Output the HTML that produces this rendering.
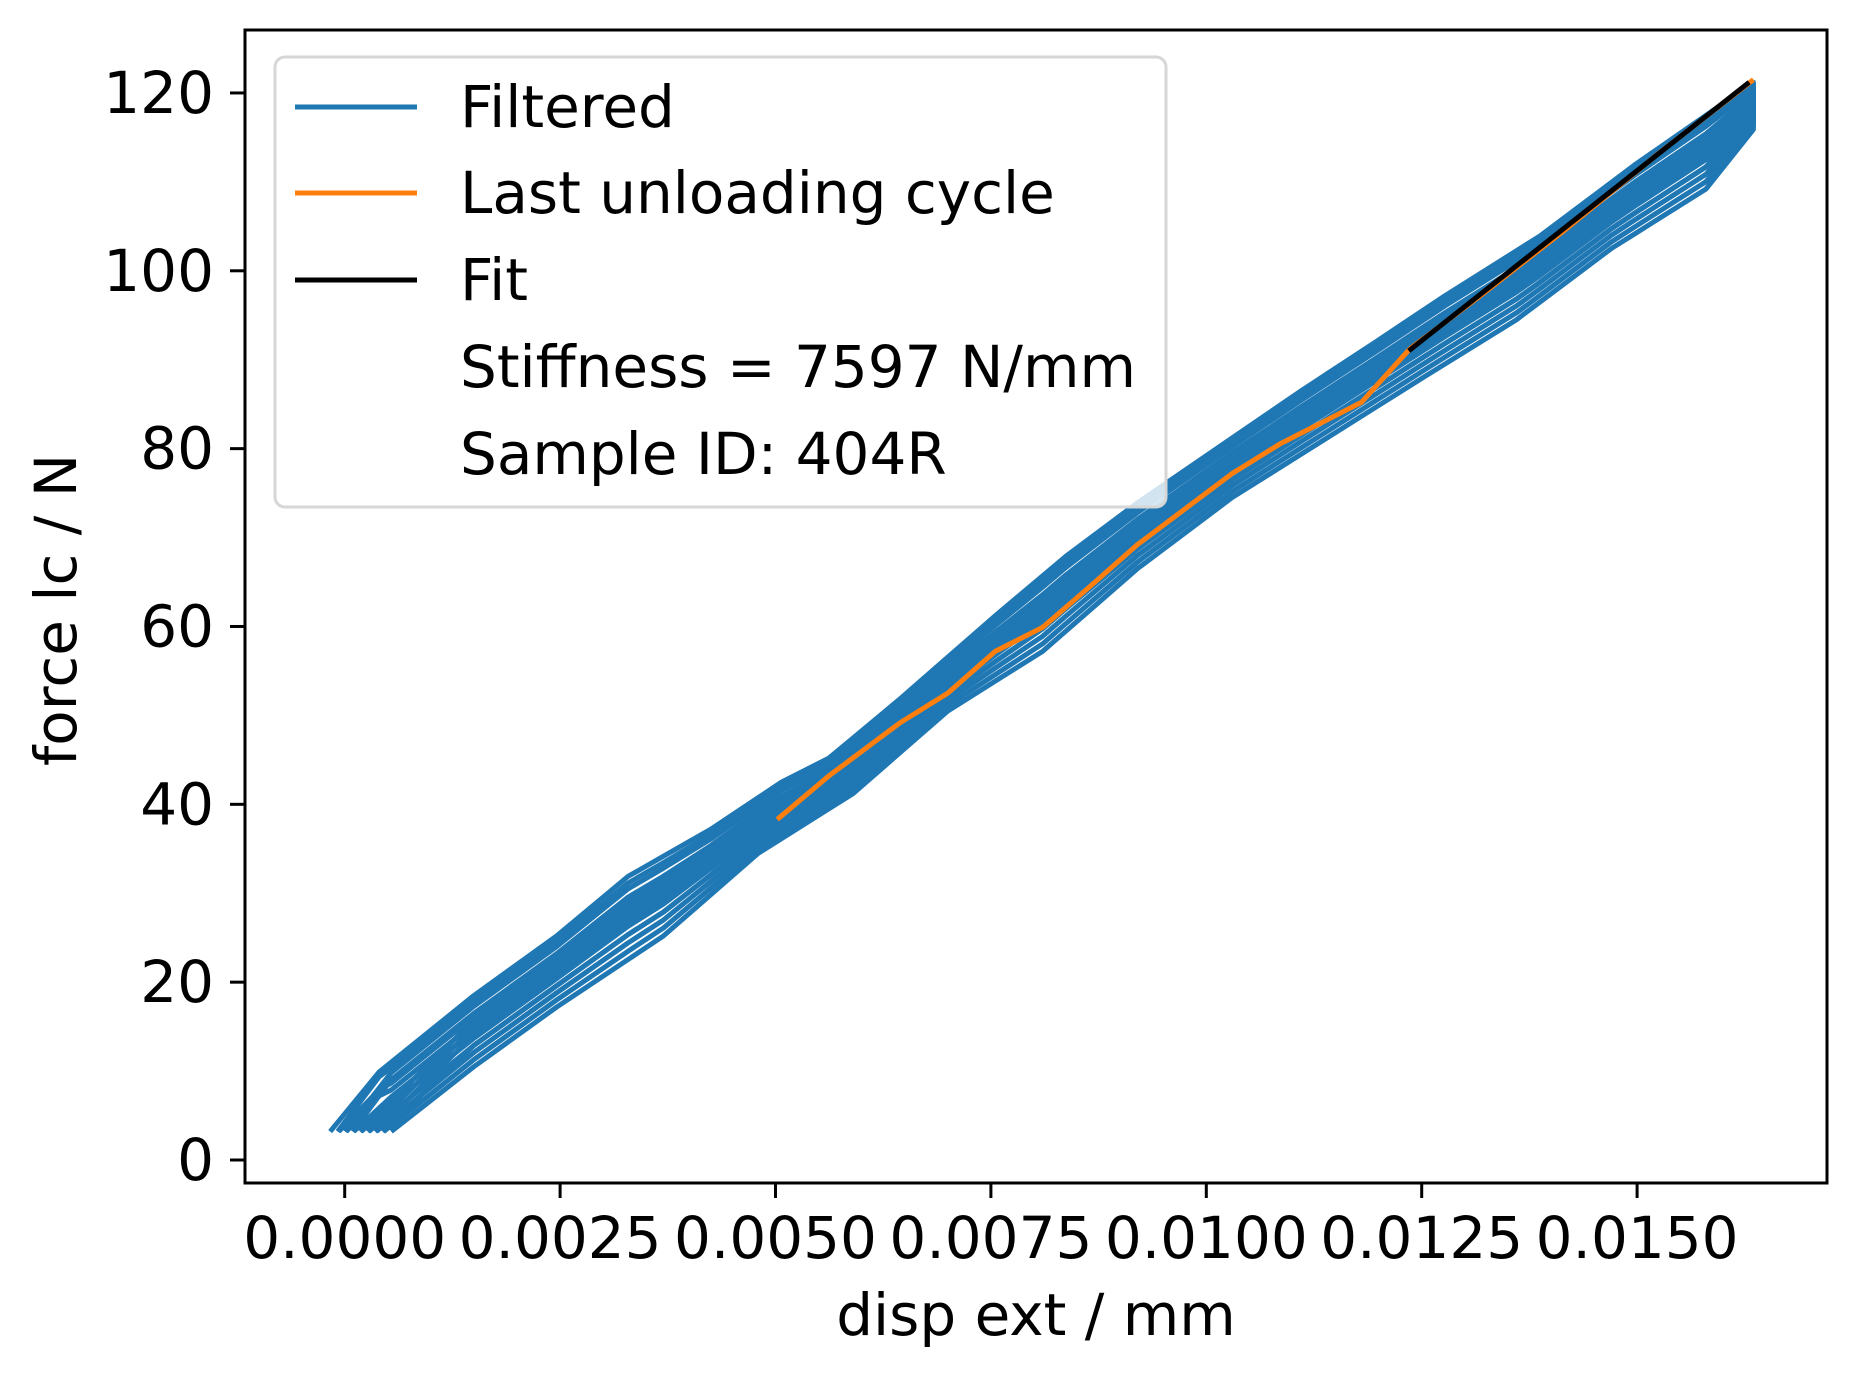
<!DOCTYPE html>
<html><head><meta charset="utf-8"><style>
body{margin:0;background:#fff}
svg text{font-family:"DejaVu Sans","Liberation Sans",sans-serif;fill:#000}
</style></head><body>
<svg id="chart" width="1854" height="1373" viewBox="0 0 1854 1373" xmlns="http://www.w3.org/2000/svg">
<rect width="1854" height="1373" fill="#fff"/>
<g id="plot"></g>
<g id="axes"></g>
<g id="legend">
<rect x="275" y="57" width="891" height="450" rx="10" fill="#fff" fill-opacity="0.8" stroke="#d6d6d6" stroke-width="3"/>
<line x1="295" y1="107" x2="417" y2="107" stroke="#1f77b4" stroke-width="5"/>
<text x="460" y="127" font-size="58">Filtered</text>
<line x1="295" y1="193" x2="417" y2="193" stroke="#ff7f0e" stroke-width="5"/>
<text x="460" y="213" font-size="58">Last unloading cycle</text>
<line x1="295" y1="280" x2="417" y2="280" stroke="#000" stroke-width="5"/>
<text x="460" y="300" font-size="58">Fit</text>
<text x="460" y="387" font-size="58">Stiffness = 7597 N/mm</text>
<text x="460" y="474" font-size="58">Sample ID: 404R</text>
</g>
</svg>
<script>
const upperX=[-0.00033,0.0004,0.0015,0.00246,0.00329,0.00425,0.00507,0.00562,0.00645,0.00755,0.00837,0.0092,0.0103,0.0111,0.01195,0.01277,0.01387,0.01497,0.01635];
const upperY=[3.2,9.9,18.5,25.2,31.9,37.2,42.5,45.2,51.9,61.2,67.9,73.9,81.2,86.5,91.9,97.2,103.9,111.9,121.2];
const lowerX=[0.00054,0.0015,0.00246,0.0037,0.0048,0.0059,0.007,0.0081,0.0092,0.0103,0.0114,0.0125,0.0136,0.0147,0.0158,0.01635];
const lowerY=[3.2,10.5,17.2,25.2,34.5,41.2,50.5,57.2,66.5,74.5,81.2,87.9,94.5,102.5,109.2,115.9];
const loadWeights=[0,0.1,0.2,0.3,0.4,0.5,0.6,0.7];
const unloadWeights=[0.3,0.45,0.55,0.65,0.75,0.85,0.92,1];
const orangeX=[0.00502,0.00562,0.00645,0.007,0.00755,0.0081,0.00865,0.0092,0.00975,0.0103,0.01085,0.0118,0.01236,0.01318,0.01415,0.01525,0.01635];
const orangeY=[38.3,43.2,49.2,52.5,57.2,59.9,64.5,69.2,73.2,77.2,80.5,85.2,91.2,97.2,104.5,113.2,121.5];
const fitX=[0.01235,0.0163];
const fitY=[91,121.2];
const xTicks=[0,0.0025,0.005,0.0075,0.01,0.0125,0.015];
const xTickLabels=["0.0000","0.0025","0.0050","0.0075","0.0100","0.0125","0.0150"];
const yTicks=[0,20,40,60,80,100,120];

const L=245,R=1827,T=30,B=1183;
const X=v=>344.7+v/0.0025*215.4;
const Y=v=>1160-v*8.892;
const NS="http://www.w3.org/2000/svg";
const plot=document.getElementById('plot'),axes=document.getElementById('axes');
function mk(tag,attrs,parent){const e=document.createElementNS(NS,tag);for(const k in attrs)e.setAttribute(k,attrs[k]);parent.appendChild(e);return e;}
function interp(xs,ys,x){if(x<=xs[0])return ys[0];for(let i=1;i<xs.length;i++){if(x<=xs[i]){const t=(x-xs[i-1])/(xs[i]-xs[i-1]);return ys[i-1]+t*(ys[i]-ys[i-1]);}}return ys[ys.length-1];}
const grid=[...new Set([...upperX,...lowerX])].sort((a,b)=>a-b);
loadWeights.forEach((a,ci)=>{
  const b=unloadWeights[ci];
  const start=upperX[0]+(lowerX[0]-upperX[0])*(1-a);
  const y0=upperY[0];
  let pts=[X(start)+','+Y(y0)];
  const xs=grid.filter(x=>x>start+0.0003);
  xs.forEach(x=>{
    const yu=interp(upperX,upperY,x),yl=interp(lowerX,lowerY,x);
    pts.push(X(x)+','+Y(yl+(yu-yl)*a));
  });
  xs.slice().reverse().forEach(x=>{
    const yu=interp(upperX,upperY,x),yl=interp(lowerX,lowerY,x);
    pts.push(X(x)+','+Y(yl+(yu-yl)*b));
  });
  pts.push(X(start-0.0001)+','+Y(y0));
  const p=mk('polyline',{points:pts.join(' '),fill:'none',stroke:'#1f77b4','stroke-width':5,'stroke-linejoin':'round'},plot);
  
  
});
const o=mk('polyline',{points:orangeX.map((x,i)=>X(x)+','+Y(orangeY[i])).join(' '),fill:'none',stroke:'#ff7f0e','stroke-width':5},plot);


const f=mk('polyline',{points:fitX.map((x,i)=>X(x)+','+Y(fitY[i])).join(' '),fill:'none',stroke:'#000','stroke-width':5},plot);


const fr=mk('rect',{x:L,y:T,width:R-L,height:B-T,fill:'none',stroke:'#000','stroke-width':3},axes);


xTicks.forEach((v,i)=>{
  const t=mk('line',{x1:X(v),x2:X(v),y1:B,y2:B+15,stroke:'#000','stroke-width':3},axes);
  
  
  const tx=mk('text',{x:X(v),y:1258,'font-size':'58','text-anchor':'middle'},axes);tx.textContent=xTickLabels[i];
  
  
});
yTicks.forEach(v=>{
  const t=mk('line',{x1:L-15,x2:L,y1:Y(v),y2:Y(v),stroke:'#000','stroke-width':3},axes);
  
  
  const tx=mk('text',{x:214,y:Y(v)+20,'font-size':'58','text-anchor':'end'},axes);tx.textContent=v;
  
  
});
const xl=mk('text',{x:1036,y:1335,'font-size':'58','text-anchor':'middle'},axes);xl.textContent='disp ext / mm';


const yl=mk('text',{x:0,y:0,'font-size':'58','text-anchor':'middle',transform:'translate(76,610) rotate(-90)'},axes);yl.textContent='force lc / N';


</script>
</body></html>
